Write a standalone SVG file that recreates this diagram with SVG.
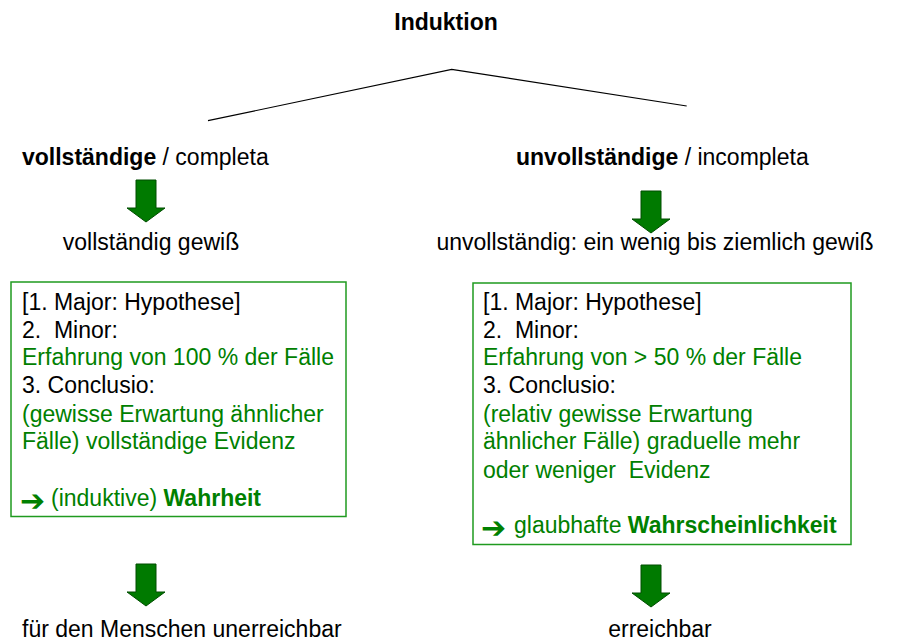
<svg xmlns="http://www.w3.org/2000/svg" xmlns:xlink="http://www.w3.org/1999/xlink" width="898" height="643" viewBox="0 0 898 643">
<style>
text{font-family:"Liberation Sans",Arial,sans-serif;font-size:23px;fill:#000;white-space:pre}
.g{fill:#008000}
.b{font-weight:bold}
.sym{font-family:"DejaVu Sans",sans-serif;font-size:30px;font-weight:bold;fill:#008000}
.box{fill:#fff;stroke:#1f9a1f;stroke-width:1.5}
.conn{fill:none;stroke:#000;stroke-width:1.2}
.barrow{fill:#007a00;stroke:#004d00;stroke-width:1}
</style>
<defs>
<path id="blk" d="M-10,0 H10 V28 H19 L0,42 L-19,28 H-10 Z"/>
</defs>
<rect width="898" height="643" fill="#fff"/>
<g id="title"><text class="b" x="446" y="30" text-anchor="middle">Induktion</text></g>
<g id="connectors">
<polyline class="conn" points="208,120.7 451.7,69.3 686.7,106"/>
<use xlink:href="#blk" class="barrow" x="146" y="180"/>
<use xlink:href="#blk" class="barrow" x="651" y="191"/>
<use xlink:href="#blk" class="barrow" x="146" y="564"/>
<use xlink:href="#blk" class="barrow" x="651" y="565"/>
</g>
<g id="left-head"><text x="22" y="165"><tspan class="b">vollständige</tspan> / completa</text></g>
<g id="right-head"><text x="516" y="165"><tspan class="b">unvollständige</tspan> / incompleta</text></g>
<g id="left-cert"><text x="151" y="250" text-anchor="middle">vollständig gewiß</text></g>
<g id="right-cert"><text x="655" y="250" text-anchor="middle">unvollständig: ein wenig bis ziemlich gewiß</text></g>
<g id="left-box">
<rect class="box" x="11" y="282" width="335" height="234.5"/>
<text x="22" y="310">[1. Major: Hypothese]</text>
<text x="22" y="337.7">2.  Minor:</text>
<text class="g" x="22" y="365">Erfahrung von 100 % der Fälle</text>
<text x="22" y="393">3. Conclusio:</text>
<text class="g" x="22" y="421.5">(gewisse Erwartung ähnlicher</text>
<text class="g" x="22" y="449">Fälle) vollständige Evidenz</text>
<text class="sym" x="20" y="510.5">➔</text>
<text class="g" x="51" y="505.7">(induktive) <tspan class="b">Wahrheit</tspan></text>
</g>
<g id="right-box">
<rect class="box" x="473" y="283" width="378" height="261.5"/>
<text x="483" y="310">[1. Major: Hypothese]</text>
<text x="483" y="337.7">2.  Minor:</text>
<text class="g" x="483" y="365">Erfahrung von &gt; 50 % der Fälle</text>
<text x="483" y="393">3. Conclusio:</text>
<text class="g" x="483" y="421.5">(relativ gewisse Erwartung</text>
<text class="g" x="483" y="449">ähnlicher Fälle) graduelle mehr</text>
<text class="g" x="483" y="477.7">oder weniger  Evidenz</text>
<text class="sym" x="481" y="538">➔</text>
<text class="g" x="514" y="533">glaubhafte <tspan class="b">Wahrscheinlichkeit</tspan></text>
</g>
<g id="left-result"><text x="22" y="637">für den Menschen unerreichbar</text></g>
<g id="right-result"><text x="660" y="637" text-anchor="middle">erreichbar</text></g>
</svg>
